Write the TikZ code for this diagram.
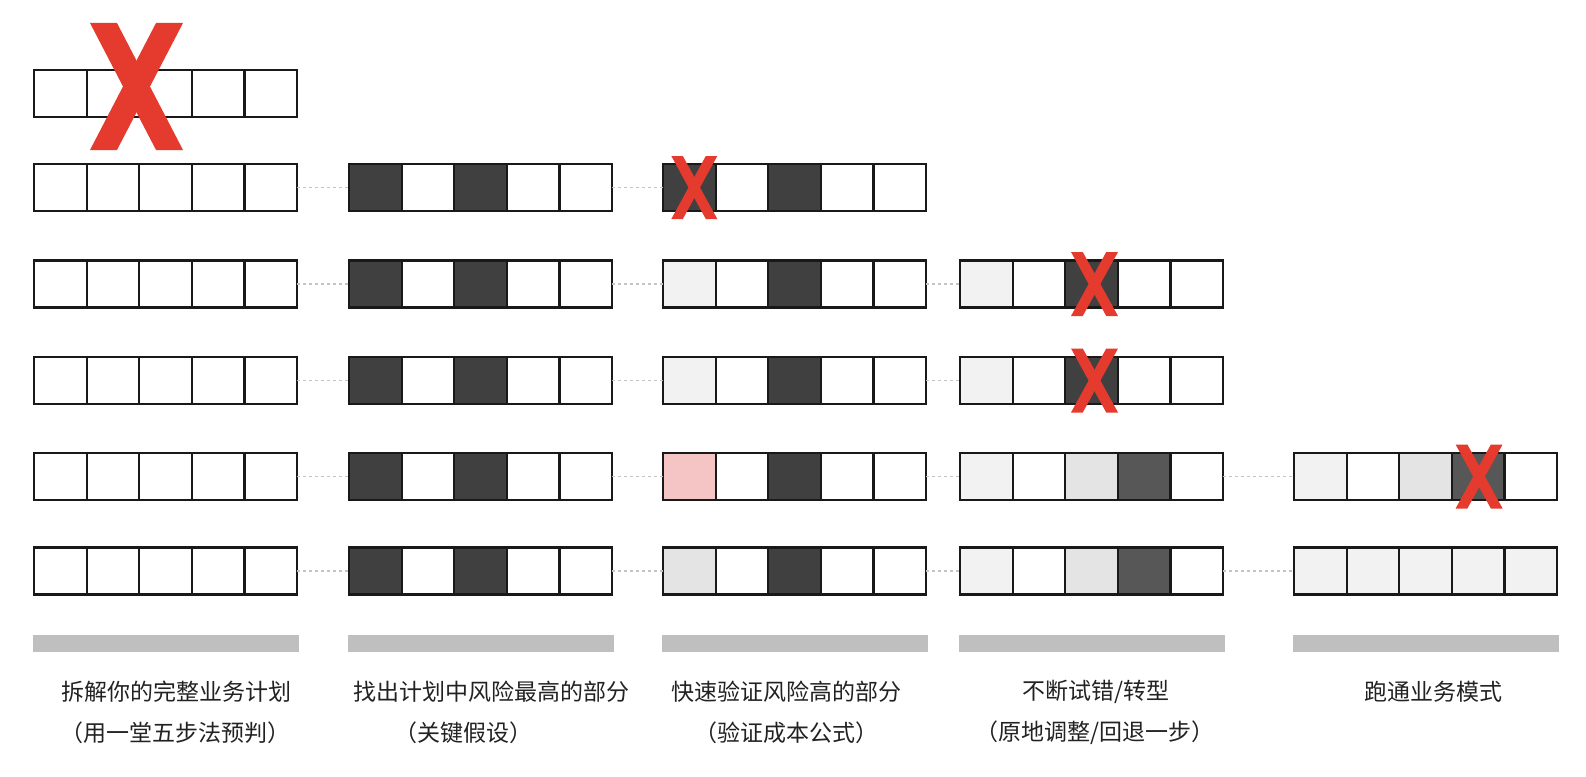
\documentclass[tikz,border=0pt]{standalone}
\usepackage{fontspec}
\newfontfamily\cjk{Noto Sans CJK SC}
\definecolor{dk}{HTML}{404040}
\definecolor{dkb}{HTML}{575757}
\definecolor{lt}{HTML}{F2F2F2}
\definecolor{md}{HTML}{E4E4E4}
\definecolor{pk}{HTML}{F5C5C5}
\definecolor{xred}{HTML}{E53A2E}
\definecolor{barc}{HTML}{BFBFBF}
\definecolor{conc}{HTML}{C4C4C4}
\definecolor{txt}{HTML}{222222}
\newcommand\cellrow[5]{%
  \foreach \f [count=\i] in {#5} {%
    \node[cell, fill=\f] (c-#1-#2-\i) at ({#4+52.6*(\i-0.5)}, #3) {};
  }%
}
\begin{document}
\begin{tikzpicture}[x=1pt,y=-1pt,
  cell/.style={draw=black!90, line width=2.2pt, minimum width=52.6pt, minimum height=47pt, inner sep=0pt, outer sep=0pt},
  conn/.style={draw=conc, line width=1.2pt, dash pattern=on 3pt off 3pt},
  barbox/.style={fill=barc, minimum width=266pt, minimum height=17pt, inner sep=0pt, outer sep=0pt},
  lbl/.style={font=\cjk\fontsize{23}{28}\selectfont, text=txt, inner sep=0pt, anchor=center},
  bigx/.pic={
    \fill[xred] (-0.5,-0.5) -- (-0.21,-0.5) -- (0.5,0.5) -- (0.21,0.5) -- cycle;
    \fill[xred] (0.5,-0.5) -- (0.21,-0.5) -- (-0.5,0.5) -- (-0.21,0.5) -- cycle;
  },
  smallx/.pic={
    \fill[xred] (-0.5,-0.5) -- (-0.25,-0.5) -- (0.5,0.5) -- (0.25,0.5) -- cycle;
    \fill[xred] (0.5,-0.5) -- (0.25,-0.5) -- (-0.5,0.5) -- (-0.25,0.5) -- cycle;
  }
]
\fill[white] (0,0) rectangle (1586,776);
\useasboundingbox (0,0) rectangle (1586,776);

% row 0
\cellrow{0}{1}{93.5}{34}{white,white,white,white,white}
% row 1
\cellrow{1}{1}{187.5}{34}{white,white,white,white,white}
\cellrow{1}{2}{187.5}{349}{dk,white,dk,white,white}
\cellrow{1}{3}{187.5}{663}{dk,white,dk,white,white}
% row 2
\cellrow{2}{1}{284}{34}{white,white,white,white,white}
\cellrow{2}{2}{284}{349}{dk,white,dk,white,white}
\cellrow{2}{3}{284}{663}{lt,white,dk,white,white}
\cellrow{2}{4}{284}{960}{lt,white,dk,white,white}
% row 3
\cellrow{3}{1}{380.5}{34}{white,white,white,white,white}
\cellrow{3}{2}{380.5}{349}{dk,white,dk,white,white}
\cellrow{3}{3}{380.5}{663}{lt,white,dk,white,white}
\cellrow{3}{4}{380.5}{960}{lt,white,dk,white,white}
% row 4
\cellrow{4}{1}{476.5}{34}{white,white,white,white,white}
\cellrow{4}{2}{476.5}{349}{dk,white,dk,white,white}
\cellrow{4}{3}{476.5}{663}{pk,white,dk,white,white}
\cellrow{4}{4}{476.5}{960}{lt,white,md,dkb,white}
\cellrow{4}{5}{476.5}{1294}{lt,white,md,dkb,white}
% row 5
\cellrow{5}{1}{571}{34}{white,white,white,white,white}
\cellrow{5}{2}{571}{349}{dk,white,dk,white,white}
\cellrow{5}{3}{571}{663}{md,white,dk,white,white}
\cellrow{5}{4}{571}{960}{lt,white,md,dkb,white}
\cellrow{5}{5}{571}{1294}{lt,lt,lt,lt,lt}

% connectors
\draw[conn] (c-1-1-5.east) -- (c-1-2-1.west);
\draw[conn] (c-1-2-5.east) -- (c-1-3-1.west);
\foreach \r in {2,3} {
  \draw[conn] (c-\r-1-5.east) -- (c-\r-2-1.west);
  \draw[conn] (c-\r-2-5.east) -- (c-\r-3-1.west);
  \draw[conn] (c-\r-3-5.east) -- (c-\r-4-1.west);
}
\foreach \r in {4,5} {
  \draw[conn] (c-\r-1-5.east) -- (c-\r-2-1.west);
  \draw[conn] (c-\r-2-5.east) -- (c-\r-3-1.west);
  \draw[conn] (c-\r-3-5.east) -- (c-\r-4-1.west);
  \draw[conn] (c-\r-4-5.east) -- (c-\r-5-1.west);
}

% red crosses
\pic[xscale=93, yscale=127] at (136.5,86.5) {bigx};
\pic[xscale=46, yscale=63] at ([xshift=5pt]c-1-3-1.center) {smallx};
\pic[xscale=47, yscale=64] at ([xshift=3pt]c-2-4-3.center) {smallx};
\pic[xscale=47, yscale=64] at ([xshift=3pt]c-3-4-3.center) {smallx};
\pic[xscale=47, yscale=64] at ([xshift=1pt]c-4-5-4.center) {smallx};

% grey bars
\node[barbox] (bar1) at (166,643.5) {};
\node[barbox] (bar2) at (481,643.5) {};
\node[barbox] (bar3) at (795,643.5) {};
\node[barbox] (bar4) at (1092,643.5) {};
\node[barbox] (bar5) at (1426,643.5) {};

% labels
\node[lbl] (l1a) at (176.5,692) {拆解你的完整业务计划};
\node[lbl] (l1b) at (175,733) {（用一堂五步法预判）};
\node[lbl] (l2a) at (491,692) {找出计划中风险最高的部分};
\node[lbl] (l2b) at (463,733) {（关键假设）};
\node[lbl] (l3a) at (786.5,692) {快速验证风险高的部分};
\node[lbl] (l3b) at (786,733) {（验证成本公式）};
\node[lbl] (l4a) at (1095.5,692) {不断试错/转型};
\node[lbl] (l4b) at (1095,733) {（原地调整/回退一步）};
\node[lbl] (l5a) at (1433,692) {跑通业务模式};
\end{tikzpicture}
\end{document}
